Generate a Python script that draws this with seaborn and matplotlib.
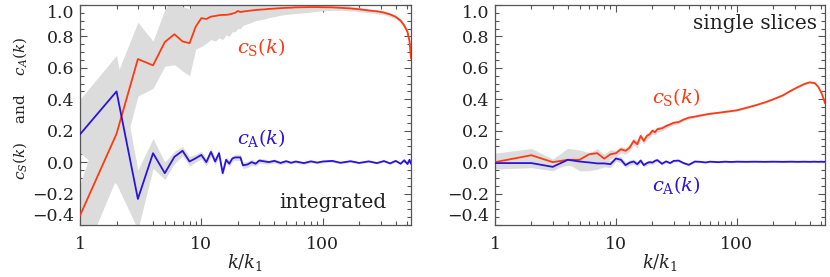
import numpy as np
import pandas as pd
import matplotlib
matplotlib.use("Agg")
import matplotlib.pyplot as plt
import seaborn as sns
from matplotlib.ticker import LogLocator, MultipleLocator, NullFormatter

# wavenumbers k/k1 (shared by both panels)
k = [1, 2, 3, 4, 5, 6, 7, 8, 9, 10, 11, 12, 13, 14, 15, 16, 17, 18, 19, 20, 21, 22,
     24, 26, 28, 30, 33, 36, 40, 45, 50, 55, 60, 70, 80, 90, 100, 120, 140, 170,
     200, 240, 280, 320, 360, 400, 440, 470, 500, 520, 535]

# ---- integrated ----
cs_int = [-0.34, 0.18, 0.656, 0.616, 0.764, 0.814, 0.768, 0.757, 0.863, 0.916, 0.911,
          0.926, 0.930, 0.935, 0.937, 0.937, 0.940, 0.945, 0.950, 0.962, 0.955, 0.958,
          0.962, 0.965, 0.968, 0.970, 0.972, 0.975, 0.977, 0.980, 0.982, 0.983, 0.985,
          0.986, 0.987, 0.987, 0.986, 0.985, 0.982, 0.978, 0.973, 0.965, 0.960, 0.952,
          0.940, 0.925, 0.900, 0.870, 0.830, 0.770, 0.660]
cs_int_lo = [-0.65, -0.10, 0.42, 0.47, 0.61, 0.62, 0.58, 0.55, 0.72, 0.736, 0.757,
             0.78, 0.77, 0.79, 0.78, 0.81, 0.80, 0.83, 0.83, 0.85, 0.85, 0.87,
             0.88, 0.89, 0.90, 0.905, 0.91, 0.92, 0.926, 0.935, 0.94, 0.943, 0.946,
             0.95, 0.955, 0.96, 0.964, 0.966, 0.966, 0.962, 0.958, 0.95, 0.945, 0.937,
             0.925, 0.91, 0.885, 0.855, 0.815, 0.755, 0.645]
cs_int_hi = [-0.14, 0.55, 0.89, 0.77, 0.97, 1.06, 0.99, 0.975, 1.06, 1.06, 1.06,
             1.06, 1.06, 1.06, 1.06, 1.06, 1.06, 1.06, 1.06, 1.06, 1.06, 1.06,
             1.06, 1.06, 1.06, 1.06, 1.06, 1.06, 1.06, 1.06, 1.06, 1.06, 1.06,
             1.06, 1.06, 1.06, 1.06, 1.06, 1.06, 0.99, 0.985, 0.975, 0.97, 0.962,
             0.95, 0.935, 0.91, 0.88, 0.84, 0.78, 0.67]
ca_int = [0.177, 0.45, -0.234, 0.057, -0.07, 0.034, 0.072, 0.004, 0.025, 0.046, 0.0,
          0.065, 0.004, 0.057, -0.07, 0.015, -0.01, 0.023, 0.03, 0.03, 0.03, -0.02,
          -0.015, 0.0, -0.01, 0.01, 0.005, 0.0, 0.008, -0.005, 0.006, -0.004, 0.004,
          -0.006, 0.005, -0.003, 0.004, 0.008, -0.004, 0.006, -0.005, 0.005, -0.006,
          0.007, -0.008, 0.008, -0.010, 0.012, -0.012, 0.015, -0.01]
ca_int_lo = [0.06, -0.14, -0.43, -0.04, -0.11, -0.01, 0.04, -0.025, 0.0, 0.02, -0.025,
             0.04, -0.02, 0.035, -0.09, -0.005, -0.03, 0.005, 0.01, 0.01, 0.01, -0.04,
             -0.035, -0.02, -0.025, -0.005, -0.01, -0.012, -0.005, -0.015, -0.005,
             -0.012, -0.006, -0.014, -0.004, -0.01, -0.004, 0.0, -0.01, -0.001, -0.011,
             -0.001, -0.012, 0.001, -0.014, 0.002, -0.016, 0.006, -0.018, 0.009, -0.016]
ca_int_hi = [0.40, 0.68, -0.05, 0.15, 0.0, 0.07, 0.10, 0.035, 0.05, 0.07, 0.025,
             0.09, 0.03, 0.08, -0.05, 0.035, 0.01, 0.04, 0.05, 0.05, 0.05, 0.0,
             0.005, 0.02, 0.005, 0.025, 0.02, 0.012, 0.02, 0.005, 0.017, 0.004,
             0.014, 0.002, 0.014, 0.004, 0.012, 0.016, 0.002, 0.013, 0.001, 0.011,
             0.0, 0.013, -0.002, 0.014, -0.004, 0.018, -0.006, 0.021, -0.004]

# ---- single slices ----
cs_sl = [0.0, 0.044, 0.0, 0.015, 0.015, 0.05, 0.057, 0.022, 0.05, 0.057, 0.082,
         0.072, 0.093, 0.135, 0.114, 0.167, 0.135, 0.167, 0.177, 0.2, 0.19, 0.21,
         0.215, 0.23, 0.24, 0.25, 0.255, 0.27, 0.283, 0.29, 0.297, 0.303, 0.308,
         0.314, 0.32, 0.325, 0.33, 0.346, 0.36, 0.38, 0.40, 0.425, 0.455, 0.478,
         0.497, 0.508, 0.503, 0.48, 0.44, 0.405, 0.375]
cs_sl_lo = [-0.03, 0.0, -0.04, -0.02, -0.03, 0.0, 0.0, -0.01, 0.02, 0.035, 0.06,
            0.05, 0.07, 0.11, 0.09, 0.145, 0.115, 0.145, 0.157, 0.18, 0.172, 0.192,
            0.2, 0.215, 0.226, 0.237, 0.245, 0.26, 0.274, 0.282, 0.29, 0.297, 0.302,
            0.309, 0.315, 0.32, 0.325, 0.341, 0.355, 0.375, 0.395, 0.42, 0.45, 0.473,
            0.492, 0.503, 0.498, 0.475, 0.435, 0.40, 0.37]
cs_sl_hi = [0.057, 0.087, 0.02, 0.088, 0.077, 0.06, 0.085, 0.05, 0.08, 0.075, 0.10,
            0.09, 0.115, 0.155, 0.135, 0.185, 0.155, 0.185, 0.195, 0.215, 0.206, 0.226,
            0.23, 0.243, 0.252, 0.262, 0.265, 0.28, 0.292, 0.298, 0.304, 0.309, 0.314,
            0.319, 0.325, 0.33, 0.335, 0.351, 0.365, 0.385, 0.405, 0.43, 0.46, 0.483,
            0.502, 0.513, 0.508, 0.485, 0.445, 0.41, 0.38]
ca_sl = [-0.006, -0.006, -0.03, 0.015, 0.004, -0.002, -0.008, -0.008, -0.013, 0.023,
         0.015, -0.019, -0.003, 0.004, -0.013, 0.01, -0.019, -0.006, 0.0, -0.003, 0.008,
         0.013, -0.01, 0.005, -0.006, 0.008, 0.01, -0.005, -0.017, 0.004, 0.002, -0.002,
         0.003, 0.0, 0.003, 0.001, 0.003, 0.002, 0.003, 0.002, 0.003, 0.002, 0.003,
         0.002, 0.003, 0.002, 0.003, 0.002, 0.003, 0.002, 0.003]
ca_sl_lo = [-0.044, -0.035, -0.055, -0.01, -0.055, -0.055, -0.045, -0.03, -0.035, 0.005,
            -0.005, -0.035, -0.02, -0.012, -0.028, -0.005, -0.032, -0.02, -0.012, -0.014,
            -0.004, 0.002, -0.018, -0.003, -0.014, 0.0, 0.002, -0.012, -0.025, -0.002,
            -0.003, -0.007, -0.002, -0.005, -0.002, -0.004, -0.002, -0.003, -0.002,
            -0.003, -0.002, -0.003, -0.002, -0.003, -0.002, -0.003, -0.002, -0.003,
            -0.002, -0.003, -0.002]
ca_sl_hi = [0.03, 0.02, -0.01, 0.05, 0.04, 0.02, 0.02, 0.01, 0.01, 0.04, 0.035, 0.0,
            0.015, 0.02, 0.002, 0.025, -0.005, 0.008, 0.012, 0.008, 0.02, 0.024, -0.002,
            0.013, 0.002, 0.016, 0.018, 0.002, -0.009, 0.01, 0.007, 0.003, 0.008, 0.005,
            0.008, 0.006, 0.008, 0.007, 0.008, 0.007, 0.008, 0.007, 0.008, 0.007, 0.008,
            0.007, 0.008, 0.007, 0.008, 0.007, 0.008]

RED = "#ff3a12"
BLUE = "#2a14dc"
GRAY = "#dcdcdc"

sns.set_theme(style="ticks")
plt.rcParams["font.family"] = ["DejaVu Serif"]
plt.rcParams["mathtext.fontset"] = "dejavuserif"

fig = plt.figure(figsize=(8.3, 2.77), dpi=100)
ax1 = fig.add_axes([80 / 830, 52 / 277, 331 / 830, 220 / 277])
ax2 = fig.add_axes([495 / 830, 52 / 277, 330 / 830, 220 / 277])

panels = [
    (ax1, cs_int, cs_int_lo, cs_int_hi, ca_int, ca_int_lo, ca_int_hi),
    (ax2, cs_sl, cs_sl_lo, cs_sl_hi, ca_sl, ca_sl_lo, ca_sl_hi),
]

for ax, cs, cs_lo, cs_hi, ca, ca_lo, ca_hi in panels:
    ax.set_xscale("log")
    ax.fill_between(k, cs_lo, cs_hi, color=GRAY, lw=0, zorder=1)
    ax.fill_between(k, ca_lo, ca_hi, color=GRAY, lw=0, zorder=1)
    df = pd.DataFrame({
        "k": k * 2,
        "c": cs + ca,
        "curve": ["S"] * len(k) + ["A"] * len(k),
    })
    sns.lineplot(data=df, x="k", y="c", hue="curve", palette={"S": RED, "A": BLUE},
                 estimator=None, legend=False, lw=1.3, ax=ax, zorder=3)

    ax.set_xlim(1, 535)
    ax.set_ylim(-0.4, 1.0)
    ax.set_xticks([1, 10, 100])
    ax.set_xticklabels(["1", "10", "100"])
    ax.xaxis.set_minor_locator(LogLocator(base=10, subs=np.arange(2, 10)))
    ax.xaxis.set_minor_formatter(NullFormatter())
    yt = [-0.4, -0.2, 0.0, 0.2, 0.4, 0.6, 0.8, 1.0]
    ax.set_yticks(yt)
    ax.set_yticklabels(["\u22120.4", "\u22120.2", "0.0", "0.2", "0.4", "0.6", "0.8", "1.0"])
    ax.yaxis.set_minor_locator(MultipleLocator(0.05))
    ax.tick_params(which="both", direction="in", top=True, right=True,
                   color="#555555", width=0.8, labelsize=12.5, labelcolor="#222222")
    ax.tick_params(which="major", length=5)
    ax.tick_params(which="minor", length=2.6)
    ax.tick_params(axis="x", which="major", pad=8)
    ax.tick_params(axis="y", which="major", pad=4)
    labs = ax.get_yticklabels()
    labs[-1].set_va("top")
    labs[0].set_va("bottom")
    for s in ax.spines.values():
        s.set_color("#555555")
        s.set_linewidth(0.9)
    ax.set_xlabel("$k/k_1$", fontsize=13, labelpad=-1)
    ax.set_ylabel("")

ax1.text(0.474, 0.81, r"$c_\mathrm{S}(k)$", color=RED, fontsize=14,
         transform=ax1.transAxes, ha="left", va="center")
ax1.text(0.474, 0.395, r"$c_\mathrm{A}(k)$", color=BLUE, fontsize=14,
         transform=ax1.transAxes, ha="left", va="center")
ax1.text(0.925, 0.10, "integrated", fontsize=14.5, color="#222222",
         transform=ax1.transAxes, ha="right", va="center")

ax2.text(0.476, 0.58, r"$c_\mathrm{S}(k)$", color=RED, fontsize=14,
         transform=ax2.transAxes, ha="left", va="center")
ax2.text(0.476, 0.18, r"$c_\mathrm{A}(k)$", color=BLUE, fontsize=14,
         transform=ax2.transAxes, ha="left", va="center")
ax2.text(0.976, 0.918, "single slices", fontsize=14.5, color="#222222",
         transform=ax2.transAxes, ha="right", va="center")

fig.text(0.024, 1 - 108 / 277, "$c_S(k)$    and    $c_A(k)$", rotation=90,
         fontsize=11, color="#222222", ha="center", va="center")

fig.savefig("out.png", dpi=100)
